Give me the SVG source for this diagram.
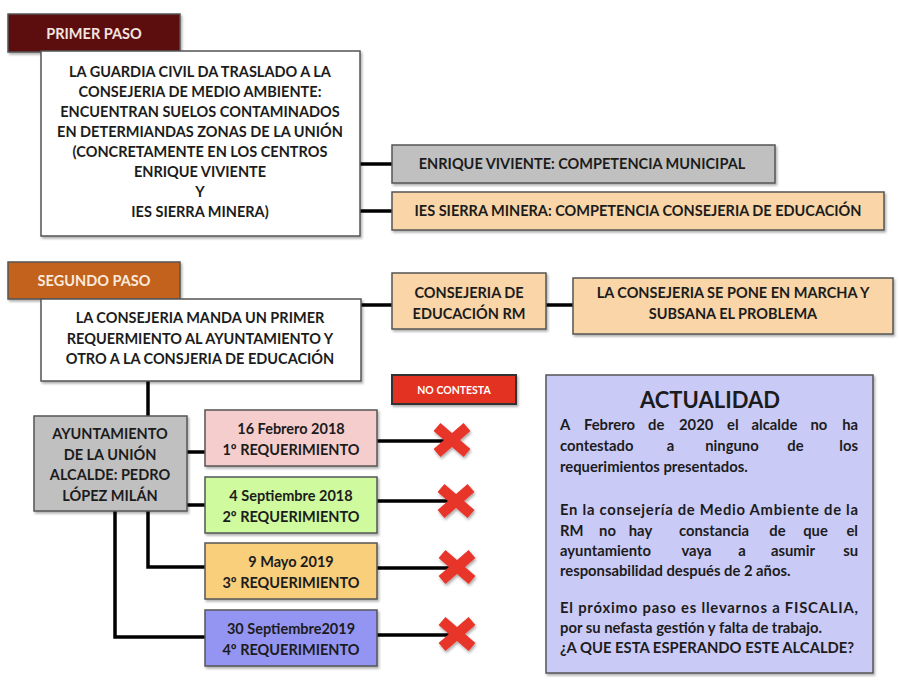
<svg xmlns="http://www.w3.org/2000/svg" width="900" height="686" viewBox="0 0 900 686">
<defs>
<filter id="sh" x="-10%" y="-10%" width="130%" height="140%"><feDropShadow dx="1.5" dy="2" stdDeviation="1.2" flood-color="#000" flood-opacity="0.3"/></filter>
<filter id="shx" x="-30%" y="-30%" width="160%" height="160%"><feDropShadow dx="1" dy="2" stdDeviation="1.5" flood-color="#000" flood-opacity="0.35"/></filter>
<g id="cross"><path d="M-15,-13 L15,13 M15,-13 L-15,13" stroke="#e8352b" stroke-width="10.5" fill="none"/></g>
</defs>
<style>
.box{stroke:#555;stroke-width:1.5;filter:url(#sh)}
.t{font-family:Lato,'Liberation Sans',sans-serif;font-weight:bold;fill:#1c1c1c;text-anchor:middle;font-size:14.5px}
.a{font-family:Lato,'Liberation Sans',sans-serif;font-weight:bold;fill:#1c1c1c;font-size:14.8px}
.m{text-anchor:middle}
.e{text-anchor:end}
.conn{stroke:#000;stroke-width:3.5;fill:none}
</style>
<rect width="900" height="686" fill="#fff"/>
<g id="connectors">
<path class="conn" d="M360,164 H392"/>
<path class="conn" d="M360,211 H392"/>
<path class="conn" d="M361,305 H392"/>
<path class="conn" d="M546,305 H573"/>
<path class="conn" d="M148,381 V416"/>
<path class="conn" d="M187,452 H205"/>
<path class="conn" d="M187,505 H205"/>
<path class="conn" d="M148,511 V567 H205"/>
<path class="conn" d="M115,511 V637 H205"/>
<path class="conn" d="M377,441 H448"/>
<path class="conn" d="M377,501 H452"/>
<path class="conn" d="M377,568 H452"/>
<path class="conn" d="M377,635 H452"/>
</g>
<g id="primer-paso">
<rect class="box" x="8" y="14" width="172" height="38" fill="#5b0d0d"/>
<text class="t" x="94" y="39" style="fill:#f4e4e0">PRIMER PASO</text>
</g>
<g id="guardia-civil">
<rect class="box" x="41" y="51" width="319" height="185" fill="#fff"/>
<text class="t" x="200" y="77">LA GUARDIA CIVIL DA TRASLADO A LA</text>
<text class="t" x="200" y="97">CONSEJERIA DE MEDIO AMBIENTE:</text>
<text class="t" x="200" y="117">ENCUENTRAN SUELOS CONTAMINADOS</text>
<text class="t" x="200" y="137">EN DETERMIANDAS ZONAS DE LA UNIÓN</text>
<text class="t" x="200" y="157">(CONCRETAMENTE EN LOS CENTROS</text>
<text class="t" x="200" y="177">ENRIQUE VIVIENTE</text>
<text class="t" x="200" y="197">Y</text>
<text class="t" x="200" y="217">IES SIERRA MINERA)</text>
</g>
<g id="enrique-viviente">
<rect class="box" x="392" y="145" width="383" height="38" fill="#c0c0c0"/>
<text class="t" x="582" y="169">ENRIQUE VIVIENTE: COMPETENCIA MUNICIPAL</text>
</g>
<g id="ies-sierra-minera">
<rect class="box" x="392" y="192" width="492" height="38" fill="#f9d5a7"/>
<text class="t" x="638" y="216">IES SIERRA MINERA: COMPETENCIA CONSEJERIA DE EDUCACIÓN</text>
</g>
<g id="segundo-paso">
<rect class="box" x="8" y="262" width="172" height="37" fill="#c2621f"/>
<text class="t" x="94" y="286" style="fill:#fbeadc">SEGUNDO PASO</text>
</g>
<g id="consejeria-manda">
<rect class="box" x="41" y="299" width="320" height="82" fill="#fff"/>
<text class="t" x="200" y="323">LA CONSEJERIA MANDA UN PRIMER</text>
<text class="t" x="200" y="343.5">REQUERMIENTO AL AYUNTAMIENTO Y</text>
<text class="t" x="200" y="364">OTRO A LA CONSJERIA DE EDUCACIÓN</text>
</g>
<g id="consejeria-educacion">
<rect class="box" x="392" y="273" width="154" height="56" fill="#f9d5a7"/>
<text class="t" x="469" y="298">CONSEJERIA DE</text>
<text class="t" x="469" y="318.5">EDUCACIÓN RM</text>
</g>
<g id="subsana">
<rect class="box" x="573" y="278" width="320" height="56" fill="#f9d5a7"/>
<text class="t" x="733" y="298">LA CONSEJERIA SE PONE EN MARCHA Y</text>
<text class="t" x="733" y="319">SUBSANA EL PROBLEMA</text>
</g>
<g id="no-contesta">
<rect x="392" y="375" width="124" height="29" fill="#e33220" stroke="#333" stroke-width="2" filter="url(#sh)"/>
<text class="t" x="454" y="394" style="fill:#fff;font-size:10.5px">NO CONTESTA</text>
</g>
<g id="ayuntamiento">
<rect class="box" x="34" y="416" width="153" height="95" fill="#c0c0c0"/>
<text class="t" x="110" y="439">AYUNTAMIENTO</text>
<text class="t" x="110" y="460">DE LA UNIÓN</text>
<text class="t" x="110" y="480">ALCALDE: PEDRO</text>
<text class="t" x="110" y="501">LÓPEZ MILÁN</text>
</g>
<g id="req1">
<rect class="box" x="205" y="410" width="172" height="56" fill="#f6cdcd"/>
<text class="t" x="291" y="434">16 Febrero 2018</text>
<text class="t" x="291" y="455">1º REQUERIMIENTO</text>
</g>
<g id="req2">
<rect class="box" x="205" y="477" width="172" height="56" fill="#cffa9e"/>
<text class="t" x="291" y="501">4 Septiembre 2018</text>
<text class="t" x="291" y="522">2º REQUERIMIENTO</text>
</g>
<g id="req3">
<rect class="box" x="205" y="543" width="172" height="56" fill="#f9cf7b"/>
<text class="t" x="291" y="567">9 Mayo 2019</text>
<text class="t" x="291" y="588">3º REQUERIMIENTO</text>
</g>
<g id="req4">
<rect class="box" x="205" y="610" width="172" height="56" fill="#9494f2"/>
<text class="t" x="291" y="634">30 Septiembre2019</text>
<text class="t" x="291" y="655">4º REQUERIMIENTO</text>
</g>
<g id="crosses" filter="url(#shx)">
<use href="#cross" x="452" y="440"/>
<use href="#cross" x="456" y="501"/>
<use href="#cross" x="457" y="567"/>
<use href="#cross" x="457" y="634"/>
</g>
<g id="actualidad">
<rect class="box" x="546" y="375" width="327" height="298" fill="#cacaf7"/>
<text class="t" x="710" y="408" style="font-size:22px">ACTUALIDAD</text>
<text class="a" y="430"><tspan x="560">A</tspan><tspan x="584">Febrero</tspan><tspan x="648">de</tspan><tspan x="679">2020</tspan><tspan x="727">el</tspan><tspan x="751.5">alcalde</tspan><tspan x="810.5">no</tspan></text>
<text class="a e" x="858" y="430">ha</text>
<text class="a" x="560" y="451">contestado</text>
<text class="a m" y="451"><tspan x="670.5">a</tspan><tspan x="732">ninguno</tspan><tspan x="795.5">de</tspan></text>
<text class="a e" x="858" y="451">los</text>
<text class="a" x="560" y="472">requerimientos presentados.</text>
<text class="a" x="560" y="515" textLength="298" lengthAdjust="spacing">En la consejería de Medio Ambiente de la</text>
<text class="a" x="560" y="535.5">RM</text>
<text class="a m" y="535.5"><tspan x="607.5">no</tspan><tspan x="640.5">hay</tspan><tspan x="714">constancia</tspan><tspan x="777.5">de</tspan><tspan x="815.5">que</tspan></text>
<text class="a e" x="858" y="535.5">el</text>
<text class="a" x="560" y="556">ayuntamiento</text>
<text class="a m" y="556"><tspan x="696.5">vaya</tspan><tspan x="742">a</tspan><tspan x="793">asumir</tspan></text>
<text class="a e" x="858" y="556">su</text>
<text class="a" x="560" y="576">responsabilidad después de 2 años.</text>
<text class="a" x="560" y="613" textLength="298" lengthAdjust="spacing">El próximo paso es llevarnos a FISCALIA,</text>
<text class="a" x="560" y="633">por su nefasta gestión y falta de trabajo.</text>
<text class="a" x="560" y="653">¿A QUE ESTA ESPERANDO ESTE ALCALDE?</text>
</g>
</svg>
